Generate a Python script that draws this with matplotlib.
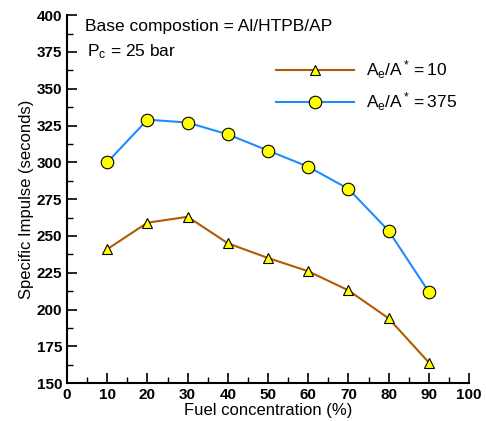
import matplotlib
matplotlib.use("Agg")
import matplotlib.pyplot as plt
from matplotlib.ticker import MultipleLocator

plt.rcParams['font.family'] = ['Liberation Sans', 'DejaVu Sans']
plt.rcParams['mathtext.fontset'] = 'custom'
plt.rcParams['mathtext.rm'] = 'Liberation Sans'
plt.rcParams['mathtext.it'] = 'Liberation Sans'

# data
fuel = [10, 20, 30, 40, 50, 60, 70, 80, 90]
isp_10 = [241, 259, 263, 245, 235, 226, 213, 194, 164]
isp_375 = [300, 329, 327, 319, 308, 297, 282, 253.5, 212]

fig = plt.figure(figsize=(4.86, 4.21), dpi=100)
ax = fig.add_axes([0.138, 0.090, 0.827, 0.874])

ax.plot(fuel, isp_10, color='#b35a00', lw=1.5, marker='^', ms=7,
        mfc='#ffff00', mec='black', mew=0.8,
        label=r'$\mathregular{A_e/A^* = 10}$')
ax.plot(fuel, isp_375, color='#1e8cff', lw=1.5, marker='o', ms=9,
        mfc='#ffff00', mec='black', mew=0.8,
        label=r'$\mathregular{A_e/A^* = 375}$')

ax.set_xlim(0, 100)
ax.set_ylim(150, 400)
ax.xaxis.set_major_locator(MultipleLocator(10))
ax.xaxis.set_minor_locator(MultipleLocator(5))
ax.yaxis.set_major_locator(MultipleLocator(25))
ax.yaxis.set_minor_locator(MultipleLocator(12.5))

for s in ['top', 'right']:
    ax.spines[s].set_visible(False)
ax.spines['left'].set_linewidth(1.5)
ax.spines['bottom'].set_linewidth(1.5)
ax.tick_params(which='major', direction='in', length=7, width=1.2, labelsize=11)
ax.tick_params(which='minor', direction='in', length=4, width=1.0)
for t in ax.get_xticklabels() + ax.get_yticklabels():
    t.set_fontweight('bold')

ax.set_xlabel('Fuel concentration (%)', fontsize=12, labelpad=1)
ax.set_ylabel('Specific Impulse (seconds)', fontsize=12, labelpad=2)

ax.text(0.045, 0.99, 'Base compostion = Al/HTPB/AP', transform=ax.transAxes,
        fontsize=12.5, va='top', ha='left')
ax.text(0.05, 0.925, r'$\mathregular{P_c}$ = 25 bar', transform=ax.transAxes,
        fontsize=12.5, va='top', ha='left')

ax.legend(loc='upper right', bbox_to_anchor=(1.01, 0.925), frameon=False,
          fontsize=12.5, handlelength=4.5, handletextpad=0.7,
          labelspacing=0.55)

fig.savefig('out.png', dpi=100)
